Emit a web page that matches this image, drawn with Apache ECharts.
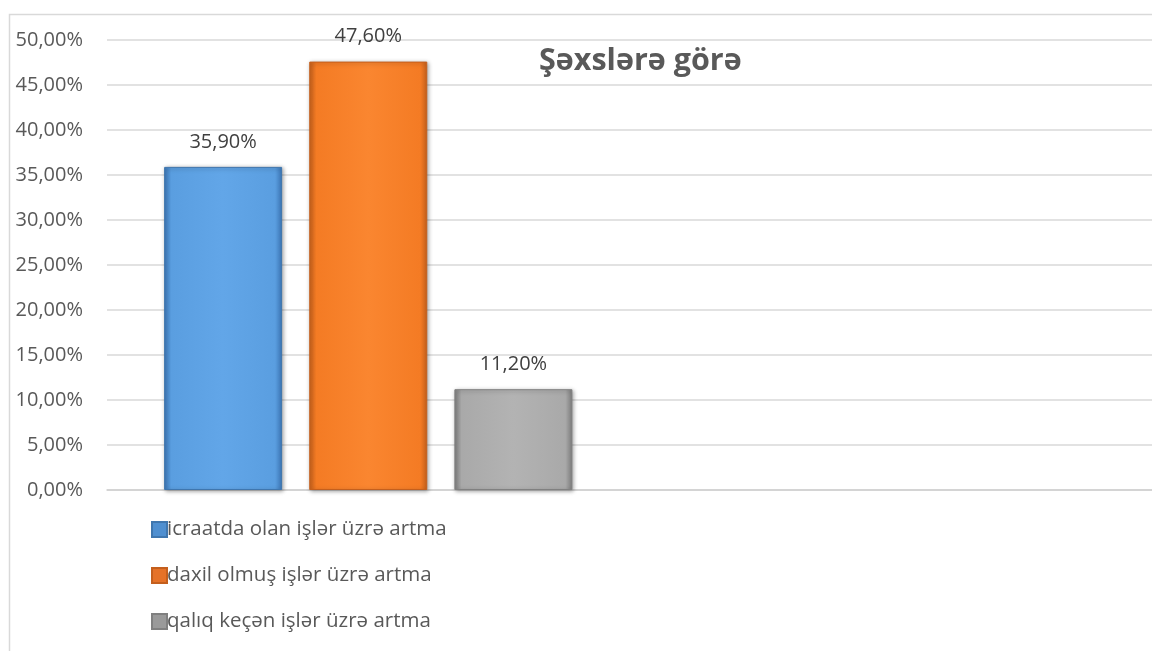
<!DOCTYPE html>
<html lang="az" style="width: 100%; height: 100%">
<head>
  <meta charset="utf-8">
</head>
<body style="width: 100%; height: 100%; margin: 0; background: #fff">
  <div id="container" style="width: 1152px; height: 651px"></div>
  <script type="text/javascript" src="https://cdn.jsdelivr.net/npm/echarts@6/dist/echarts.min.js"></script>
  <script type="text/javascript">

var chartTitle = 'Şəxslərə görə';
var categories = ['', ''];
var seriesNames = [
  'icraatda olan işlər üzrə artma',
  'daxil olmuş işlər üzrə artma',
  'qalıq keçən işlər üzrə artma'
];
// percent values, one per series (second category is empty)
var icraatda = [35.9, null];
var daxil = [47.6, null];
var qaliq = [11.2, null];

var yTicks = { min: 0, max: 50, step: 5 };

var dom = document.getElementById('container');
var myChart = echarts.init(dom, null, { renderer: 'canvas' });

function pct(v) {
  return v.toFixed(2).replace('.', ',') + '%';
}

function grad(dark, mid, light) {
  return new echarts.graphic.LinearGradient(0, 0, 1, 0, [
    { offset: 0, color: dark },
    { offset: 0.06, color: mid },
    { offset: 0.5, color: light },
    { offset: 0.94, color: mid },
    { offset: 1, color: dark }
  ]);
}

var styles = [
  { fill: grad('#3d78b8', '#5a9ee0', '#62a6e8'), border: '#3f76ae', icon: '#4f8fd0' },
  { fill: grad('#c9621c', '#f47b24', '#fa8630'), border: '#c45f1d', icon: '#e57228' },
  { fill: grad('#7f7f7f', '#a9a9a9', '#b3b3b3'), border: '#808080', icon: '#9a9a9a' }
];

var allData = [icraatda, daxil, qaliq];

var series = [];
for (var n = 0; n < allData.length; n++) {
  series.push({
    name: seriesNames[n],
    type: 'bar',
    data: allData[n],
    barWidth: 118,
    barGap: '23%',
    itemStyle: {
      color: styles[n].fill,
      borderColor: styles[n].border,
      borderWidth: 1,
      shadowColor: 'rgba(0,0,0,0.35)',
      shadowBlur: 4,
      shadowOffsetX: 1,
      shadowOffsetY: 1
    },
    label: {
      show: true,
      position: 'top',
      distance: 15,
      color: '#404040',
      fontSize: 20,
      lineHeight: 20,
      fontFamily: 'Open Sans',
      formatter: function (p) { return pct(p.value); }
    }
  });
}

var option = {
  backgroundColor: '#ffffff',
  animation: false,
  title: {
    text: chartTitle,
    left: 534,
    top: 41,
    textStyle: {
      fontFamily: 'Open Sans',
      fontWeight: 'bold',
      fontSize: 30.5,
      color: '#595959'
    }
  },
  legend: {
    orient: 'vertical',
    left: 146,
    top: 514,
    itemWidth: 15,
    itemHeight: 15,
    itemGap: 25,
    icon: 'rect',
    data: seriesNames.map(function (s, i) {
      return { name: s, itemStyle: { color: styles[i].icon } };
    }),
    textStyle: {
      fontFamily: 'Open Sans',
      fontSize: 20.5,
      lineHeight: 20,
      color: '#595959',
      padding: [0, 0, 0, -5]
    }
  },
  grid: {
    left: 107,
    right: 0,
    top: 40,
    bottom: 161
  },
  xAxis: {
    type: 'category',
    data: categories,
    axisTick: { show: false },
    axisLabel: { show: false },
    axisLine: { lineStyle: { color: '#d0d0d0', width: 1.5 } }
  },
  yAxis: {
    type: 'value',
    min: yTicks.min,
    max: yTicks.max,
    interval: yTicks.step,
    axisLine: { show: false },
    axisTick: { show: false },
    splitLine: { lineStyle: { color: '#d9d9d9', width: 1.5 } },
    axisLabel: {
      margin: 24,
      fontFamily: 'Open Sans',
      fontSize: 20,
      color: '#595959',
      formatter: function (v) { return pct(v); }
    }
  },
  graphic: [{
    type: 'rect',
    left: 7,
    top: 12,
    shape: { width: 1200, height: 700 },
    style: { fill: 'none', stroke: '#d9d9d9', lineWidth: 1.5 },
    silent: true,
    z: -1
  }],
  series: series
};

myChart.setOption(option);
window.addEventListener('resize', myChart.resize);

  </script>
</body>
</html>
